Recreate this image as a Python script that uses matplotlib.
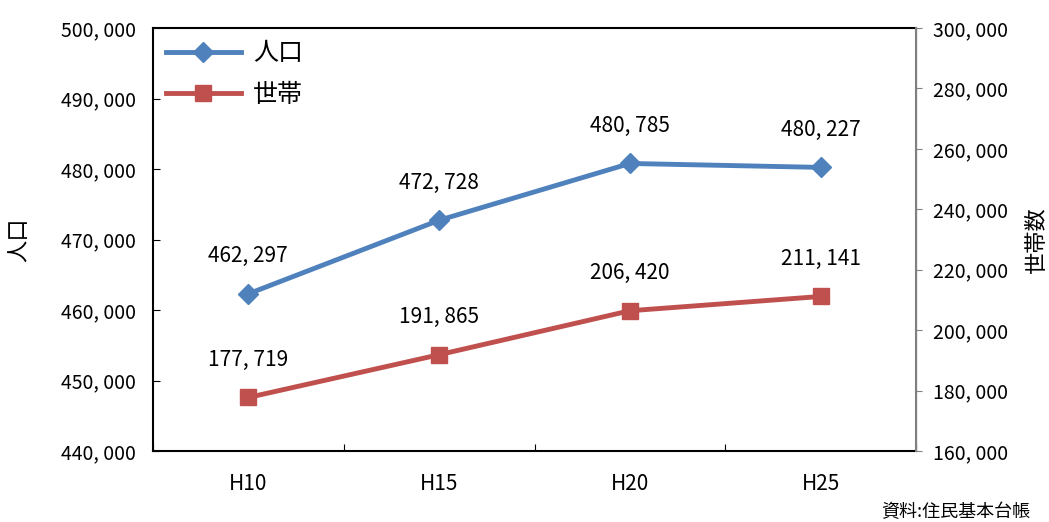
import matplotlib.pyplot as plt
from matplotlib.ticker import FuncFormatter

plt.rcParams['font.family'] = ['Noto Sans CJK JP', 'DejaVu Sans']

# 人口・世帯数の推移
years = ['H10', 'H15', 'H20', 'H25']
population = [462297, 472728, 480785, 480227]
households = [177719, 191865, 206420, 211141]

blue = '#4F81BD'
red = '#C0504D'


def comma(v, pos=None):
    return f'{int(v):,}'.replace(',', ', ')


fig = plt.figure(figsize=(10.49, 5.22), dpi=100)
ax = fig.add_axes([153 / 1049, 1 - 451 / 522, (916 - 153) / 1049, (451 - 28) / 522])
ax2 = ax.twinx()

x = list(range(len(years)))
ax.plot(x, population, color=blue, lw=3.5, marker='D', ms=10, label='人口', zorder=3)
ax2.plot(x, households, color=red, lw=3.5, marker='s', ms=11, label='世帯', zorder=3)

ax.set_xlim(-0.5, 3.5)
ax.set_ylim(440000, 500000)
ax2.set_ylim(160000, 300000)
ax.set_yticks(range(440000, 500001, 10000))
ax2.set_yticks(range(160000, 300001, 20000))
ax.yaxis.set_major_formatter(FuncFormatter(comma))
ax2.yaxis.set_major_formatter(FuncFormatter(comma))

ax.set_xticks([i - 0.5 for i in range(len(years) + 1)])
ax.set_xticklabels([])
ax.set_xticks(x, minor=True)
ax.set_xticklabels(years, minor=True, fontsize=15)
ax.tick_params(axis='x', which='major', direction='in', length=5)
ax.tick_params(axis='x', which='minor', length=0, pad=16)
ax.tick_params(axis='y', direction='in', length=5, labelsize=14, pad=12)
ax2.tick_params(axis='y', direction='out', length=4, color='#808080', labelsize=14, pad=8)

for s in ['left', 'bottom', 'top']:
    ax.spines[s].set_linewidth(1.5)
ax2.spines['right'].set_color('#808080')
ax2.spines['right'].set_linewidth(1.5)
for s in ['left', 'bottom', 'top']:
    ax2.spines[s].set_visible(False)

ax.set_ylabel('人口', fontsize=16, labelpad=22)
ax2.set_ylabel('世帯数', fontsize=16, rotation=90, labelpad=12)

for xi, v in zip(x, population):
    ax.annotate(comma(v), (xi, v), xytext=(0, 19), textcoords='offset points',
                ha='center', va='bottom', fontsize=15)
for xi, v in zip(x, households):
    ax2.annotate(comma(v), (xi, v), xytext=(0, 19), textcoords='offset points',
                 ha='center', va='bottom', fontsize=15)

h1, l1 = ax.get_legend_handles_labels()
h2, l2 = ax2.get_legend_handles_labels()
ax2.legend(h1 + h2, l1 + l2, loc='upper left', frameon=False, fontsize=18,
           handlelength=3, borderaxespad=0.1, labelspacing=0.6, handletextpad=0.5)

fig.text(1030 / 1049, 1 - 512 / 522, '資料:住民基本台帳', ha='right', va='center', fontsize=13)

fig.savefig('out.png', dpi=100)
